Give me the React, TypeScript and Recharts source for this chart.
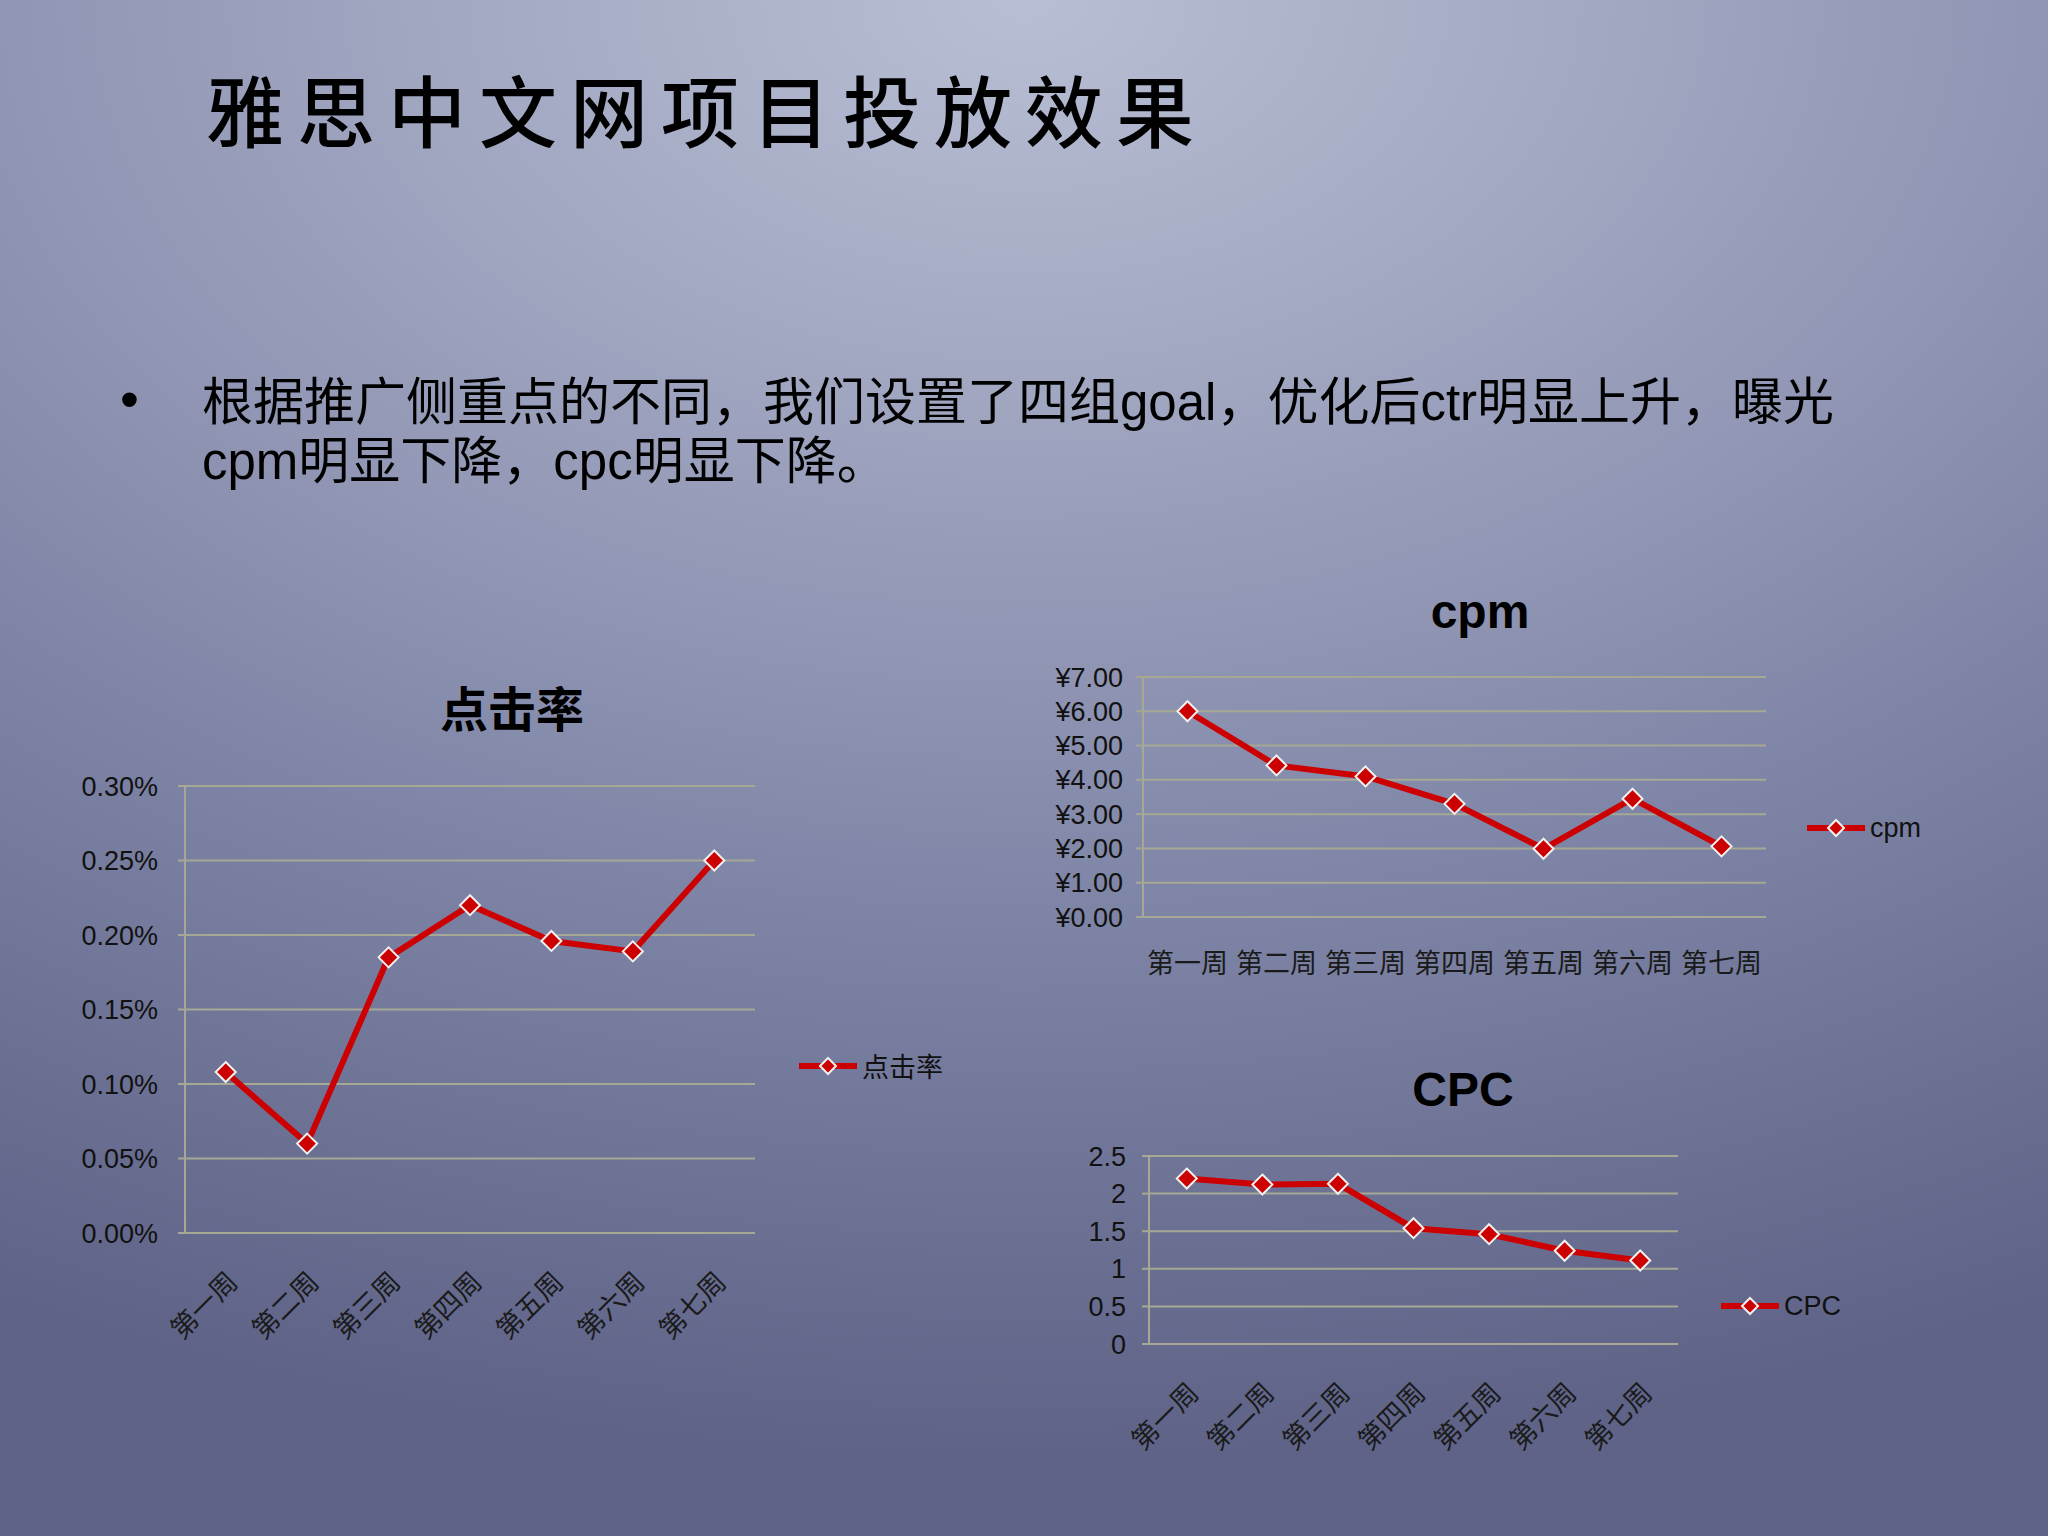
import { LineChart, Line, XAxis, YAxis, CartesianGrid, Legend } from 'recharts'

const weeks = ['第一周', '第二周', '第三周', '第四周', '第五周', '第六周', '第七周']

// 点击率 (as fractions), cpm (¥), CPC
const ctrValues = [0.00108, 0.0006, 0.00185, 0.0022, 0.00196, 0.00189, 0.0025]
const cpmValues = [6.0, 4.42, 4.1, 3.3, 1.99, 3.45, 2.06]
const cpcValues = [2.2, 2.12, 2.13, 1.54, 1.46, 1.24, 1.11]

const ctrTicks = [0, 0.0005, 0.001, 0.0015, 0.002, 0.0025, 0.003]
const cpmTicks = [0, 1, 2, 3, 4, 5, 6, 7]
const cpcTicks = [0, 0.5, 1, 1.5, 2, 2.5]

const bandEdges = [0, 1, 2, 3, 4, 5, 6, 7]
const bandCentres = weeks.map((_, i) => i + 0.5)

const RED = '#cc0000'
const GRID = '#a6a894'
const CJK = '"Noto Sans CJK SC", "Noto Sans", sans-serif'
const LATIN = '"Liberation Sans", Arial, "Noto Sans CJK SC", sans-serif'

const Diamond = (props: any) => {
  const { cx, cy, index } = props
  if (cx == null || cy == null) return <g key={`d-${index}`} />
  const r = 10
  return (
    <path
      key={`d-${index}`}
      d={`M${cx},${cy - r}L${cx + r},${cy}L${cx},${cy + r}L${cx - r},${cy}Z`}
      fill={RED}
      stroke="#f0f0f0"
      strokeWidth={2}
    />
  )
}

const LegendKey = ({ label, font }: { label: string; font: string }) => (
  <div style={{ display: 'flex', alignItems: 'center', gap: 5 }}>
    <svg width={58} height={22}>
      <line x1={0} y1={11} x2={58} y2={11} stroke={RED} strokeWidth={6} strokeLinecap="round" />
      <path d="M29,3L37,11L29,19L21,11Z" fill={RED} stroke="#f0f0f0" strokeWidth={2} />
    </svg>
    <span style={{ fontFamily: font, fontSize: 27, color: '#111', lineHeight: '30px' }}>{label}</span>
  </div>
)

type ChartProps = {
  left: number
  top: number
  width: number
  height: number
  margin: { top: number; right: number; bottom: number; left: number }
  yWidth: number
  values: number[]
  ticks: number[]
  yFormat: (v: number) => string
  yFont: string
  yTickMargin: number
  rotated: boolean
  labelHeight: number
  labelMargin: number
  legendLabel: string
  legendFont: string
  legendLeft: number
  legendTop: number
}

function WeekChart(p: ChartProps) {
  const rows = weeks.map((w, i) => ({ pos: i + 0.5, week: w, value: p.values[i] }))
  return (
    <div style={{ position: 'absolute', left: p.left, top: p.top }}>
      <LineChart width={p.width} height={p.height} data={rows} margin={p.margin}>
        <CartesianGrid xAxisId="edge" vertical={false} stroke={GRID} strokeWidth={2} />
        <XAxis
          xAxisId="edge"
          dataKey="pos"
          type="number"
          domain={[0, 7]}
          ticks={bandEdges}
          tick={false}
          tickSize={8}
          tickLine={{ stroke: GRID, strokeWidth: 2 }}
          axisLine={{ stroke: GRID, strokeWidth: 2 }}
          height={1}
        />
        <XAxis
          xAxisId="label"
          dataKey="pos"
          type="number"
          domain={[0, 7]}
          ticks={bandCentres}
          tickFormatter={(v: number) => weeks[Math.floor(v)]}
          axisLine={false}
          tickLine={false}
          tickSize={0}
          tickMargin={p.labelMargin}
          interval={0}
          angle={p.rotated ? -45 : 0}
          textAnchor={p.rotated ? 'end' : 'middle'}
          tick={{ fill: '#1a1a1a', fontSize: 27, fontFamily: CJK, verticalAnchor: 'middle' } as any}
          height={p.labelHeight}
        />
        <YAxis
          domain={[p.ticks[0], p.ticks[p.ticks.length - 1]]}
          ticks={p.ticks}
          tickFormatter={p.yFormat}
          width={p.yWidth}
          tickSize={7}
          tickMargin={p.yTickMargin}
          interval={0}
          tickLine={{ stroke: GRID, strokeWidth: 2 }}
          axisLine={{ stroke: GRID, strokeWidth: 2 }}
          tick={{ fill: '#111', fontSize: 27, fontFamily: p.yFont }}
        />
        <Legend
          layout="horizontal"
          verticalAlign="middle"
          align="center"
          wrapperStyle={{ left: p.legendLeft, top: p.legendTop, width: 'auto' }}
          content={() => <LegendKey label={p.legendLabel} font={p.legendFont} />}
        />
        <Line
          xAxisId="edge"
          type="linear"
          dataKey="value"
          name={p.legendLabel}
          stroke={RED}
          strokeWidth={6}
          dot={Diamond}
          activeDot={false}
          isAnimationActive={false}
        />
      </LineChart>
    </div>
  )
}

const ChartTitle = ({ text, cx, cy, font }: { text: string; cx: number; cy: number; font: string }) => (
  <div
    style={{
      position: 'absolute',
      left: cx - 200,
      top: cy - 32,
      width: 400,
      textAlign: 'center',
      fontFamily: font,
      fontWeight: 700,
      fontSize: 48,
      lineHeight: '60px',
      color: '#000',
    }}
  >
    {text}
  </div>
)

export default function App() {
  return (
    <div
      style={{
        position: 'absolute',
        left: 0,
        top: 0,
        width: 2048,
        height: 1536,
        overflow: 'hidden',
        background:
          'radial-gradient(ellipse 110% 95% at 50% 0%, #b8bed3 0%, #a0a6c0 28%, #7f85a6 62%, #5e6387 100%)',
      }}
    >
      <div
        style={{
          position: 'absolute',
          left: 206,
          top: 68,
          fontFamily: CJK,
          fontWeight: 500,
          fontSize: 78,
          letterSpacing: 13,
          lineHeight: '80px',
          color: '#000',
          whiteSpace: 'nowrap',
        }}
      >
        雅思中文网项目投放效果
      </div>

      <div
        style={{
          position: 'absolute',
          left: 120,
          top: 370,
          fontFamily: LATIN,
          fontSize: 54,
          lineHeight: '59px',
          color: '#000',
        }}
      >
        •
      </div>
      <div
        style={{
          position: 'absolute',
          left: 202,
          top: 373,
          fontFamily: LATIN,
          fontSize: 51,
          lineHeight: '59px',
          color: '#000',
          whiteSpace: 'nowrap',
        }}
      >
        根据推广侧重点的不同，我们设置了四组goal，优化后ctr明显上升，曝光
        <br />
        cpm明显下降，cpc明显下降。
      </div>

      <ChartTitle text="点击率" cx={512} cy={708} font={CJK} />
      <WeekChart
        left={60}
        top={760}
        width={900}
        height={594}
        margin={{ top: 26, right: 205, bottom: 0, left: 0 }}
        yWidth={125}
        values={ctrValues}
        ticks={ctrTicks}
        yFormat={(v) => (v * 100).toFixed(2) + '%'}
        yFont={LATIN}
        yTickMargin={20}
        rotated
        labelHeight={120}
        labelMargin={36}
        legendLabel="点击率"
        legendFont={CJK}
        legendLeft={739}
        legendTop={291}
      />

      <ChartTitle text="cpm" cx={1480} cy={614} font={LATIN} />
      <WeekChart
        left={1030}
        top={640}
        width={1000}
        height={358}
        margin={{ top: 37, right: 264, bottom: 0, left: 0 }}
        yWidth={113}
        values={cpmValues}
        ticks={cpmTicks}
        yFormat={(v) => '¥' + v.toFixed(2)}
        yFont={LATIN}
        yTickMargin={13}
        rotated={false}
        labelHeight={80}
        labelMargin={36}
        legendLabel="cpm"
        legendFont={LATIN}
        legendLeft={777}
        legendTop={173}
      />

      <ChartTitle text="CPC" cx={1463} cy={1092} font={LATIN} />
      <WeekChart
        left={1030}
        top={1120}
        width={900}
        height={345}
        margin={{ top: 36, right: 252, bottom: 0, left: 0 }}
        yWidth={119}
        values={cpcValues}
        ticks={cpcTicks}
        yFormat={(v) => String(v)}
        yFont={LATIN}
        yTickMargin={16}
        rotated
        labelHeight={120}
        labelMargin={36}
        legendLabel="CPC"
        legendFont={LATIN}
        legendLeft={691}
        legendTop={171}
      />
    </div>
  )
}
